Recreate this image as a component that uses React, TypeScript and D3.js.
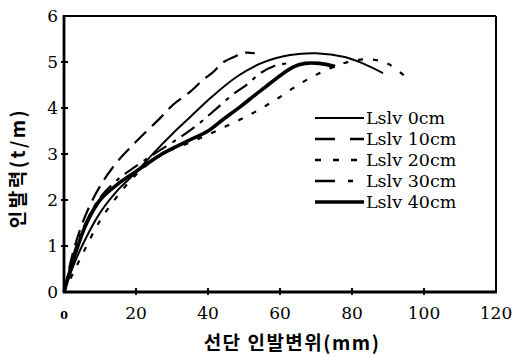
import React from 'react';
import * as d3 from 'd3';

const W = 513;
const H = 357;

const xTicks = [0, 20, 40, 60, 80, 100, 120];
const yTicks = [0, 1, 2, 3, 4, 5, 6];
const seriesNames = ['Lslv 0cm', 'Lslv 10cm', 'Lslv 20cm', 'Lslv 30cm', 'Lslv 40cm'];

const s0: [number, number][] = [
  [0, 0], [2, 0.45], [5, 1.0], [10, 1.72], [15, 2.22], [20, 2.6], [25, 3.03], [30, 3.43],
  [35, 3.8], [41, 4.24], [48, 4.68], [55, 4.98], [62.8, 5.15], [70, 5.19], [78, 5.11], [83, 4.97], [88.6, 4.76],
];
const s10: [number, number][] = [
  [0, 0], [3, 1.0], [6.7, 1.8], [10.8, 2.4], [15, 2.85], [18.3, 3.13], [22.5, 3.46], [26.7, 3.78],
  [30.3, 4.07], [35, 4.35], [38.6, 4.61], [41.4, 4.78], [44, 4.98], [47.5, 5.12], [50, 5.2], [53, 5.19],
];
const s20: [number, number][] = [
  [0, 0], [5, 0.8], [10, 1.55], [15, 2.1], [20, 2.55], [25, 2.88], [30, 3.1], [35, 3.25], [40, 3.42],
  [44.7, 3.59], [49.8, 3.78], [55, 4.0], [60, 4.24], [65, 4.5], [70, 4.72], [75, 4.9], [80, 5.02],
  [85, 5.06], [90, 4.96], [95, 4.67],
];
const s30: [number, number][] = [
  [0, 0], [3, 0.9], [6, 1.5], [10, 2.05], [15, 2.45], [19, 2.68], [25, 3.0], [32, 3.35], [37, 3.63],
  [41.5, 3.93], [47, 4.3], [51, 4.52], [54.4, 4.75], [58.6, 4.92], [62, 4.97],
];
const s40: [number, number][] = [
  [0, 0], [3, 0.8], [6.3, 1.5], [10, 2.0], [15, 2.35], [20, 2.62], [22, 2.73], [27.6, 3.02], [34, 3.27],
  [40, 3.5], [44, 3.74], [49, 4.03], [55, 4.4], [63.6, 4.89], [67, 4.97], [71, 4.97], [75.3, 4.9],
];

const seriesData = [s0, s10, s20, s30, s40];
const dashes = ['none', '16 8', '5 10', '16 7 4 7', 'none'];
const widths = [2, 2.2, 2.2, 2.2, 3.6];
const legendDashes = ['none', '20 15', '6 12', '20 13 5 20', 'none'];

export default function App() {
  const x = d3.scaleLinear().domain([0, 120]).range([64, 496]);
  const y = d3.scaleLinear().domain([0, 6]).range([292, 16]);
  const line = d3
    .line<[number, number]>()
    .x((d) => x(d[0]))
    .y((d) => y(d[1]))
    .curve(d3.curveCatmullRom.alpha(0.5));

  const serif = '"DejaVu Serif", "Liberation Serif", serif';
  const kor = '"Noto Sans CJK KR", sans-serif';

  return (
    <svg
      width={W}
      height={H}
      viewBox={`0 0 ${W} ${H}`}
      style={{ position: 'absolute', left: 0, top: 0, background: '#fff' }}
    >
      <rect x={0} y={0} width={W} height={H} fill="#fff" />
      {/* frame */}
      <line x1={x(0)} x2={x(120)} y1={y(6)} y2={y(6)} stroke="#000" strokeWidth={2} />
      <line x1={x(120)} x2={x(120)} y1={y(6)} y2={y(0)} stroke="#000" strokeWidth={2} />
      <line x1={x(0)} x2={x(0)} y1={y(6) - 1} y2={y(0) + 1} stroke="#000" strokeWidth={2.8} />
      <line x1={x(0) - 1} x2={x(120) + 1} y1={y(0)} y2={y(0)} stroke="#000" strokeWidth={2.8} />
      {/* ticks */}
      {yTicks.slice(1, 6).map((t) => (
        <line key={'yt' + t} x1={x(0) - 3} x2={x(0) + 4} y1={y(t)} y2={y(t)} stroke="#000" strokeWidth={2} />
      ))}
      {xTicks.slice(1, 6).map((t) => (
        <line key={'xt' + t} x1={x(t)} x2={x(t)} y1={y(0) - 4} y2={y(0) + 3} stroke="#000" strokeWidth={2} />
      ))}
      {/* tick labels */}
      {yTicks.map((t) => (
        <text
          key={'yl' + t}
          x={x(0) - 6}
          y={y(t)}
          dy="0.36em"
          textAnchor="end"
          fontFamily={serif}
          fontSize={17}
          fill="#000"
        >
          {t}
        </text>
      ))}
      {xTicks.map((t) => (
        <text
          key={'xl' + t}
          x={x(t)}
          y={y(0) + 27}
          textAnchor="middle"
          fontFamily={serif}
          fontSize={t === 0 ? 11 : 17}
          fontWeight={t === 0 ? 'bold' : 'normal'}
          fill="#000"
        >
          {t}
        </text>
      ))}
      {/* series */}
      {seriesData.map((d, i) => (
        <path
          key={'s' + i}
          d={line(d) || ''}
          fill="none"
          stroke="#000"
          strokeWidth={widths[i]}
          strokeDasharray={dashes[i]}
          strokeLinecap="butt"
        />
      ))}
      {/* legend */}
      {seriesNames.map((n, i) => {
        const ly = 118 + i * 21;
        return (
          <g key={'lg' + i}>
            <line
              x1={315}
              x2={364}
              y1={ly}
              y2={ly}
              stroke="#000"
              strokeWidth={i === 4 ? 3.6 : i === 0 ? 1.8 : 2.6}
              strokeDasharray={legendDashes[i]}
            />
            <text x={366} y={ly} dy="0.36em" fontFamily={serif} fontSize={17.5} fill="#000">
              {n}
            </text>
          </g>
        );
      })}
      {/* axis titles */}
      <text
        x={292}
        y={350}
        textAnchor="middle"
        fontFamily={kor}
        fontSize={19}
        fontWeight="bold"
        letterSpacing={1.5}
        fill="#000"
      >
        선단 인발변위(mm)
      </text>
      <text
        transform={`translate(25, 168) rotate(-90)`}
        textAnchor="middle"
        fontFamily={kor}
        fontSize={19}
        fontWeight="bold"
        letterSpacing={2.5}
        fill="#000"
      >
        인발력(t/m)
      </text>
    </svg>
  );
}
